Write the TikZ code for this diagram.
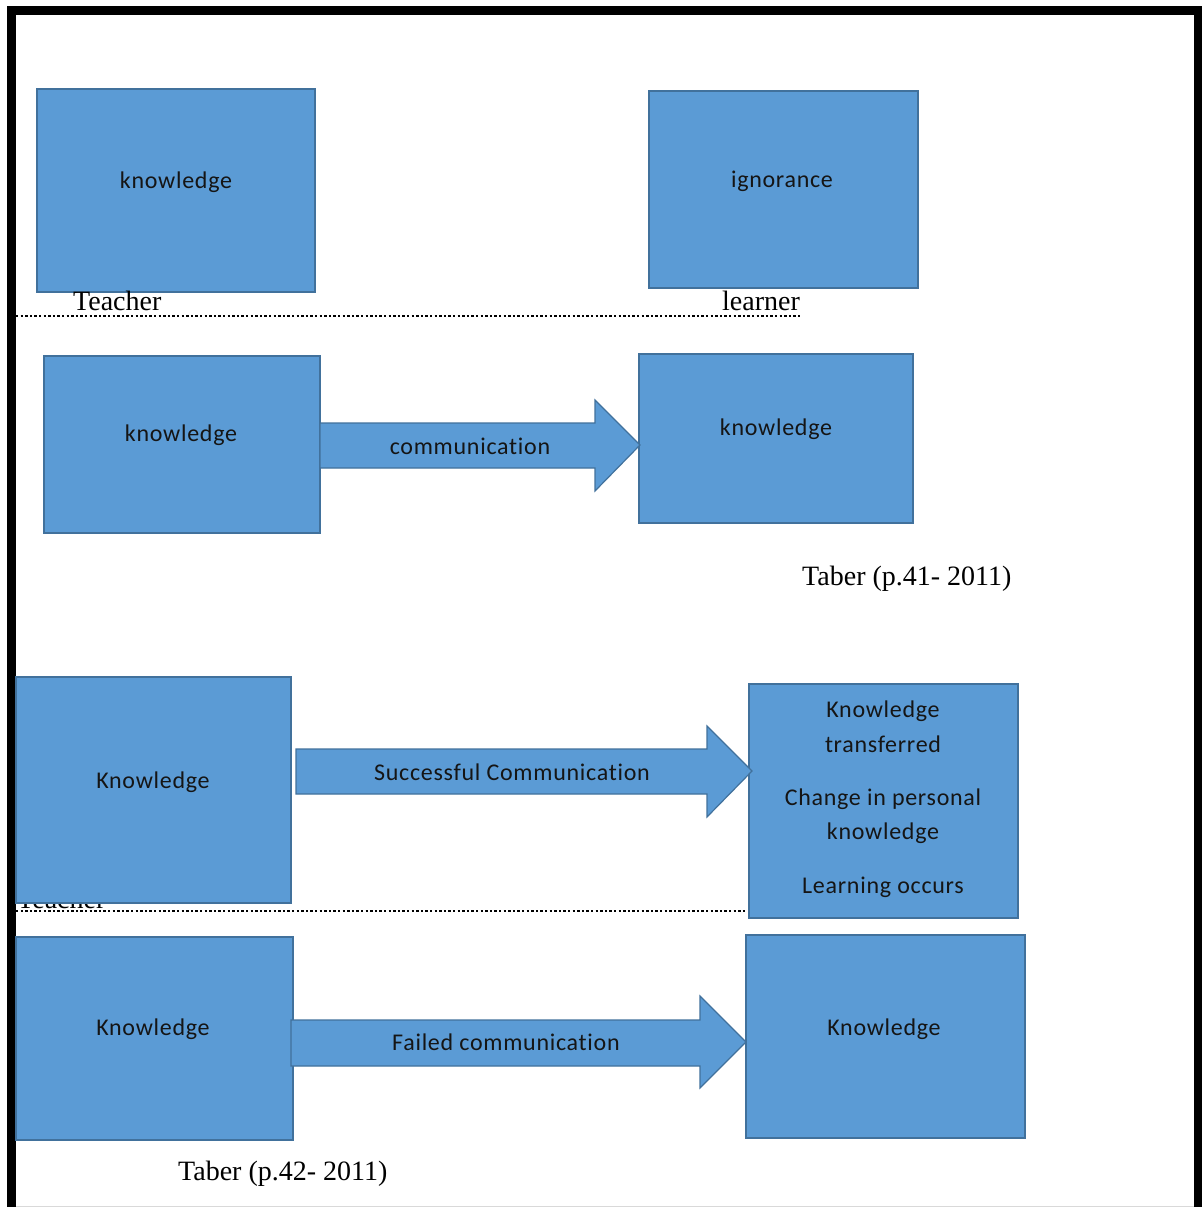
\documentclass[tikz,border=0pt]{standalone}
\usepackage{fontspec}
\setmainfont{Liberation Serif}
\newfontfamily\boxfont[LetterSpace=3,Ligatures=NoCommon]{Carlito}
\definecolor{boxfill}{HTML}{5B9BD5}
\definecolor{boxline}{HTML}{41719C}
\definecolor{boxtext}{HTML}{151515}
\begin{document}
\begin{tikzpicture}[x=1pt,y=-1pt,
  box/.style={draw=boxline,fill=boxfill,line width=1.2pt,inner sep=0pt,outer sep=0pt,anchor=north west},
  blockarrow/.style={draw=boxline,fill=boxfill,line width=1.2pt,line join=miter},
  lbl/.style={font=\boxfont\fontsize{24}{28}\selectfont,text=boxtext,inner sep=0pt,align=center},
  serif/.style={font=\fontsize{28}{32}\selectfont,text=black,inner sep=0pt,anchor=base west},
  sep/.style={draw=black,line width=2pt,dash pattern=on 2.4pt off 2.2pt}]
\useasboundingbox (0,0) rectangle (1202,1207);
\fill[white] (0,0) rectangle (1202,1207);

% page frame
\fill[black] (7,6) rectangle (16,1207);
\fill[black] (7,6) rectangle (1202,15);
\fill[black] (1194,6) rectangle (1202,1207);
\draw[black!15,line width=1pt] (16,1206) -- (1194,1206);

% first row: teacher and learner
\node[box,minimum width=278,minimum height=203] (k1) at (37,89) {};
\node[lbl] (k1t) at (176,182) {knowledge};
\node[box,minimum width=269,minimum height=197] (ig) at (649,91) {};
\node[lbl] (igt) at (782,181) {ignorance};
\node[serif] (teacher1) at (73,310) {Teacher};
\node[serif] (learner1) at (722,310) {learner};
\coordinate (s1a) at (16,316);
\coordinate (s1b) at (800,316);
\draw[sep] (s1a) -- (s1b);

% second row: knowledge passed by communication
\node[box,minimum width=276,minimum height=177] (k2) at (44,356) {};
\node[lbl] (k2t) at (181,435) {knowledge};
\node[box,minimum width=274,minimum height=169] (k3) at (639,354) {};
\node[lbl] (k3t) at (776,429) {knowledge};
\draw[blockarrow] (320,423) -- (595,423) -- (595,400) -- (640,445) -- (595,491) -- (595,468) -- (320,468) -- cycle;
\node[lbl] (a1) at (470,446) {communication};
\node[serif] (ref1) at (802,585) {Taber (p.41- 2011)};

% third row: successful communication
\node[serif] (teacher2) at (17,908) {Teacher};
\node[box,minimum width=275,minimum height=226] (k4) at (16,677) {};
\node[lbl] (k4t) at (153,782) {Knowledge};
\node[box,minimum width=269,minimum height=234] (k5) at (749,684) {};
\node[lbl,text depth=0pt] (k5a) at (883,727) {Knowledge\\[7pt]transferred};
\node[lbl,text depth=0pt] (k5b) at (883,814) {Change in personal\\[6pt]knowledge};
\node[lbl] (k5c) at (883,887) {Learning occurs};
\draw[blockarrow] (296,749) -- (707,749) -- (707,726) -- (752,771) -- (707,817) -- (707,794) -- (296,794) -- cycle;
\node[lbl] (a2) at (512,772) {Successful Communication};
\coordinate (s2a) at (16,911);
\coordinate (s2b) at (745,911);
\draw[sep] (s2a) -- (s2b);

% fourth row: failed communication
\node[box,minimum width=277,minimum height=203] (k6) at (16,937) {};
\node[lbl] (k6t) at (153,1029) {Knowledge};
\node[box,minimum width=279,minimum height=203] (k7) at (746,935) {};
\node[lbl] (k7t) at (884,1029) {Knowledge};
\draw[blockarrow] (291,1020) -- (700,1020) -- (700,996) -- (746,1042) -- (700,1088) -- (700,1066) -- (291,1066) -- cycle;
\node[lbl] (a3) at (506,1042) {Failed communication};
\node[serif] (ref2) at (178,1180) {Taber (p.42- 2011)};
\end{tikzpicture}
\end{document}
